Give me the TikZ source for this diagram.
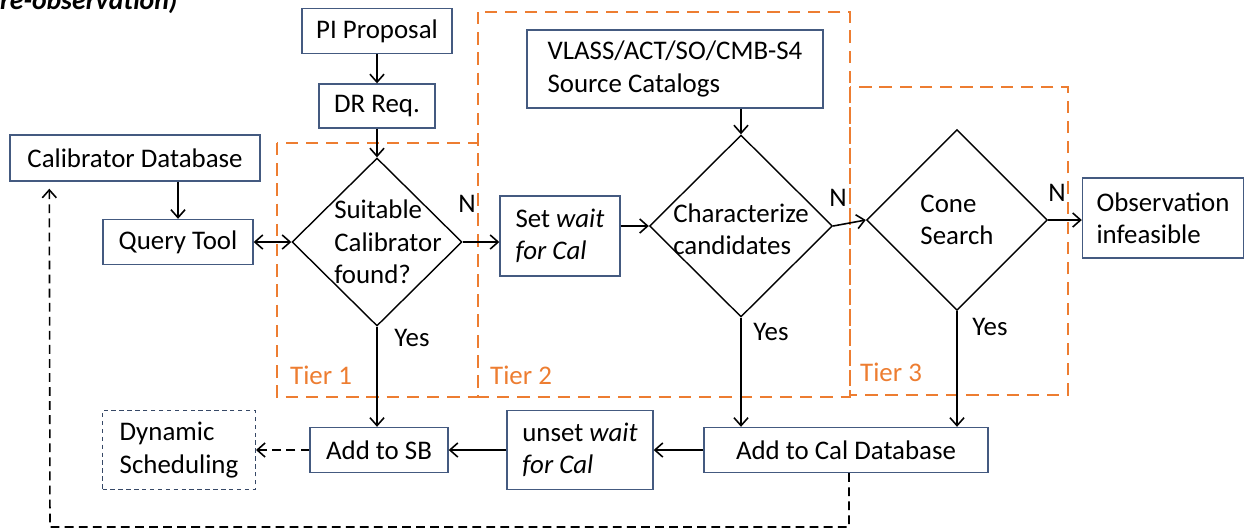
\documentclass[tikz,border=0pt]{standalone}
\usepackage{fontspec}
\setmainfont{Carlito}
\usepackage{tikz}
\usetikzlibrary{arrows.meta}
\usetikzlibrary{shapes,positioning}
\definecolor{boxblue}{RGB}{68,90,128}
\definecolor{tierorange}{RGB}{237,125,49}
\tikzset{>={Straight Barb[length=4.5pt,width=8pt]},
  box/.style={draw=boxblue,line width=0.8pt,inner sep=0pt,align=left},
  decision/.style={draw,diamond,line width=0.8pt,inner sep=0pt},
  flow/.style={->,line width=0.9pt},
  fbk/.style={->,line width=0.9pt,dash pattern=on 5pt off 3pt},
  tier/.style={draw=tierorange,line width=1.5pt,dash pattern=on 7pt off 4.5pt},
  tierlabel/.style={text=tierorange,anchor=west}}

\begin{document}
\begin{tikzpicture}[x=0.02cm,y=-0.02cm,font=\fontsize{15.3}{18.4}\selectfont]

  \useasboundingbox (0,0) rectangle (1245,529);

  \node[anchor=base east,inner sep=0pt,font=\fontsize{15.8}{19}\selectfont\bfseries\itshape] (title) at (178,9) {re-observation)};

  \draw [tier] (277,143) rectangle (478,397);
  \draw [tier] (478,12) rectangle (850,397);
  \draw [tier] (850,87) rectangle (1068,395);
  \node[tierlabel] (t1) at (284,375) {Tier 1};
  \node[tierlabel] (t2) at (484,375) {Tier 2};
  \node[tierlabel] (t3) at (854,372) {Tier 3};

  \node[box,minimum width=3cm,minimum height=0.9cm] (pi) at (377,31) {PI Proposal};
  \node[box,minimum width=2.32cm,minimum height=0.88cm] (dr) at (377,106) {DR Req.};
  \node[box,minimum width=5cm,minimum height=0.92cm] (calib) at (135,158) {Calibrator Database};
  \node[box,minimum width=3cm,minimum height=0.9cm] (query) at (178,242) {Query Tool};
  \node[box,minimum width=5.92cm,minimum height=1.56cm] (vlass) at (675,69) {VLASS/ACT/SO/CMB-S4\\Source Catalogs};
  \node[box,minimum width=2.4cm,minimum height=1.6cm] (setwait) at (560,236) {Set \textit{wait}\\\textit{for Cal}};
  \node[box,minimum width=3.22cm,minimum height=1.6cm] (obs) at (1163,218) {Observation\\infeasible};

  \node[decision,minimum width=3.4cm,minimum height=3.36cm,
    label={[align=left,xshift=0.22cm]center:Suitable\\Calibrator\\found?}] (d1) at (377,242) {};
  \node[decision,minimum width=3.66cm,minimum height=3.64cm,
    label={[align=left,yshift=-0.06cm]center:Characterize\\candidates}] (d2) at (741,226) {};
  \node[decision,minimum width=3.62cm,minimum height=3.62cm,
    label={[align=left]center:Cone\\Search}] (cone) at (957,220) {};

  \node[box,minimum width=2.76cm,minimum height=0.9cm] (addsb) at (379,450) {Add to SB};
  \node[box,draw=boxblue!80!black,line width=0.6pt,dash pattern=on 2.5pt off 2pt,
    minimum width=3.06cm,minimum height=1.58cm] (dyn) at (179,450) {Dynamic\\Scheduling};
  \node[box,minimum width=2.92cm,minimum height=1.58cm] (unset) at (580,450) {unset \textit{wait}\\\textit{for Cal}};
  \node[box,minimum width=5.68cm,minimum height=0.9cm] (addcal) at (846,450) {Add to Cal Database};

  \node (n1) at (467,204) {N};
  \node (n2) at (838,198) {N};
  \node (n3) at (1057,193) {N};
  \node (y1) at (412,338) {Yes};
  \node (y2) at (771,332) {Yes};
  \node (y3) at (990,327) {Yes};

  \draw [flow] (pi) -- (dr);
  \draw [flow] (dr) -- (d1.north);
  \draw [flow] (query.north |- calib.south) -- (query.north);
  \draw [flow,<->] (query.east) -- (query.east -| d1.west);
  \draw [flow] (d1.east) -- (d1.east -| setwait.west);
  \draw [flow] (setwait.east |- d2.west) -- (d2.west);
  \draw [flow] (vlass.south -| d2.north) -- (d2.north);
  \draw [flow] (d2.east) -- (cone.west);
  \draw [flow] (cone.east) -- (cone.east -| obs.west);
  \draw [flow] (d1.south) -- (d1.south |- addsb.north);
  \draw [flow] (d2.south) -- (d2.south |- addcal.north);
  \draw [flow] (cone.south) -- (cone.south |- addcal.north);
  \draw [flow] (addcal.west) -- (addcal.west -| unset.east);
  \draw [flow] (unset.west) -- (unset.west -| addsb.east);
  \draw [fbk] (addsb.west) -- (addsb.west -| dyn.east);

  \coordinate (fb) at (50,527);
  \draw [fbk] ([xshift=0.06cm]addcal.south) |- (fb) -- ([xshift=0.8cm,yshift=-0.14cm]calib.south west);

\end{tikzpicture}
\end{document}
